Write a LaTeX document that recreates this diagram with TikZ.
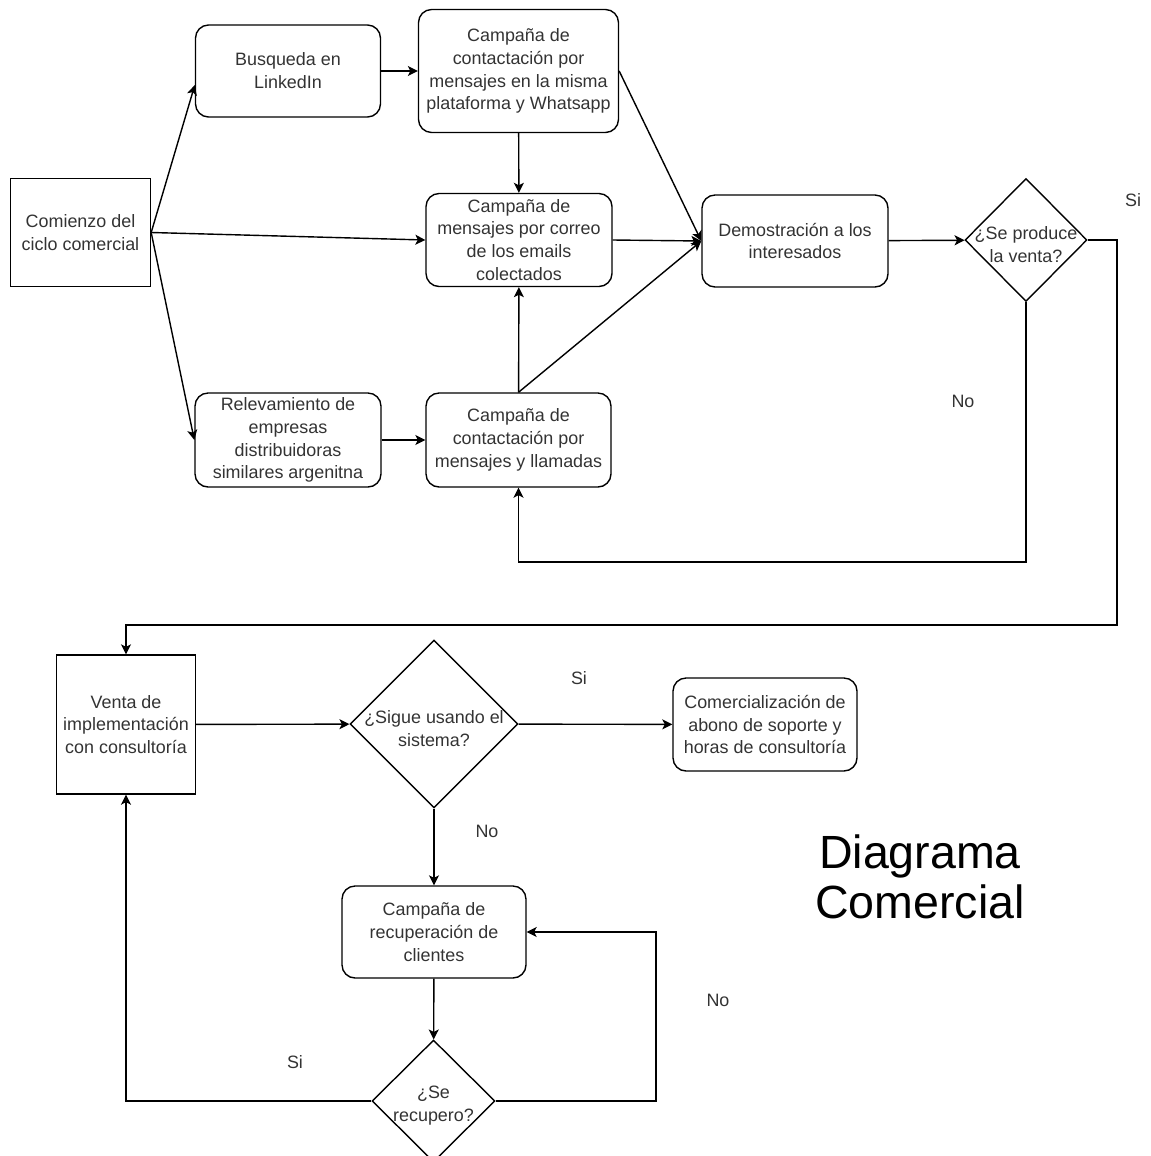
\documentclass[tikz,border=0pt]{standalone}
\usepackage{fontspec}
\setmainfont{Liberation Sans}
\usetikzlibrary{shapes.geometric,arrows.meta,calc}

\begin{document}
\begin{tikzpicture}[x=0.02cm,y=-0.02cm,
        font=\fontsize{10.2}{13}\selectfont,
        texto/.style={text=black!80,align=center,inner sep=1pt},
        caja/.style 2 args={draw,line width=0.8pt,texto,rounded corners=0.26cm,minimum width=#1,minimum height=#2},
        bloque/.style 2 args={draw,line width=0.8pt,texto,minimum width=#1,minimum height=#2},
        rombo/.style 2 args={draw,line width=0.8pt,diamond,inner sep=0pt,minimum width=#1,minimum height=#2},
        pregunta/.style={texto,yshift=-2.5pt},
        flecha/.style={draw,line width=0.8pt,-{Stealth[length=2mm,width=2mm,inset=0.5mm]}},
        etiq/.style={texto,inner sep=0pt}]
    \clip (0,0) rectangle (1150,1156);
    \node[bloque={2.8cm}{2.16cm}] (inicio) at (80.5,232.5) {Comienzo del\\ciclo comercial};
    \node[caja={3.7cm}{1.84cm}] (busqueda) at (288,71) {Busqueda en\\LinkedIn};
    \node[caja={4.0cm}{2.46cm}] (whatsapp) at (518.5,71) {Campaña de\\contactación por\\mensajes en la misma\\plataforma y Whatsapp};
    \node[caja={3.72cm}{1.86cm}] (correo) at (519,240) {Campaña de\\mensajes por correo\\de los emails\\colectados};
    \node[caja={3.72cm}{1.88cm}] (relev) at (288,440) {Relevamiento de\\empresas\\distribuidoras\\similares argenitna};
    \node[caja={3.7cm}{1.88cm}] (llamadas) at (518.5,440) {Campaña de\\contactación por\\mensajes y llamadas};
    \node[caja={3.72cm}{1.84cm}] (demo) at (795,241) {Demostración a los\\interesados};
    \node[rombo={2.44cm}{2.46cm},label={[pregunta]center:{¿Se produce\\la venta?}}] (venta) at (1026,240) {};
    \node[bloque={2.78cm}{2.78cm}] (impl) at (126,724.5) {Venta de\\implementación\\con consultoría};
    \node[rombo={3.36cm}{3.36cm},label={[pregunta]center:{¿Sigue usando el\\sistema?}}] (sigue) at (434,724) {};
    \node[caja={3.68cm}{1.86cm}] (comerc) at (765,724.5) {Comercialización de\\abono de soporte y\\horas de consultoría};
    \node[caja={3.68cm}{1.84cm}] (recup) at (434,932) {Campaña de\\recuperación de\\clientes};
    \node[rombo={2.46cm}{2.44cm},label={[pregunta]center:{¿Se\\recupero?}}] (serec) at (433.5,1101) {};
    \node[align=center,font=\fontsize{26.5}{28.4}\selectfont] (titulo) at (920,877) {Diagrama\\Comercial};

    \coordinate (bajo) at (0,562);
    \coordinate (giro1) at (1117,625);
    \coordinate (giro2) at (656,932);

    \draw[flecha] (inicio.east) -- ($(busqueda.west)+(0,14)$);
    \draw[flecha] (inicio.east) -- (correo.west);
    \draw[flecha] (inicio.east) -- (relev.west);
    \draw[flecha] (busqueda) -- (whatsapp);
    \draw[flecha] (whatsapp) -- (correo);
    \draw[flecha] (whatsapp.east) -- (demo.west);
    \draw[flecha] (correo.east) -- (demo.west);
    \draw[flecha] (relev) -- (llamadas);
    \draw[flecha] (llamadas) -- (correo);
    \draw[flecha] (llamadas.north) -- (demo.west);
    \draw[flecha] (demo) -- (venta);
    \draw[flecha] (venta.south) |- (bajo -| llamadas.south) -- (llamadas.south);
    \draw[flecha] (venta.east) -| (giro1) -| (impl.north);
    \draw[flecha] (impl) -- (sigue);
    \draw[flecha] (sigue) -- (comerc);
    \draw[flecha] (sigue) -- (recup);
    \draw[flecha] (recup) -- (serec);
    \draw[flecha] (serec.west) -| (impl.south);
    \draw[flecha] (serec.east) -| (giro2) -- (recup.east);

    \node[etiq] (si1) at (1133,200) {Si};
    \node[etiq] (no1) at (963,401) {No};
    \node[etiq] (si2) at (579,678) {Si};
    \node[etiq] (no2) at (487,831) {No};
    \node[etiq] (no3) at (718,1000) {No};
    \node[etiq] (si3) at (295,1062) {Si};
\end{tikzpicture}
\end{document}
